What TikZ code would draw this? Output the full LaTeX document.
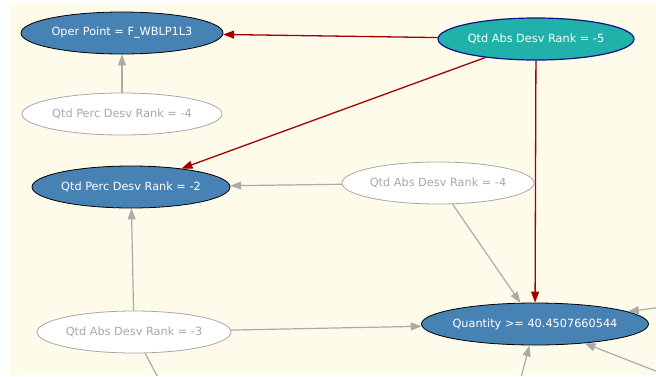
\documentclass[tikz,border=0pt]{standalone}
\usepackage{fontspec}
\setmainfont{DejaVu Sans}
\usetikzlibrary{shapes.geometric,arrows.meta}
\definecolor{paper}{HTML}{FEFBEA}
\definecolor{steel}{HTML}{4682B4}
\definecolor{teal}{HTML}{20B2AA}
\definecolor{navyrim}{HTML}{10108A}
\definecolor{hotedge}{HTML}{A00000}
\definecolor{coldedge}{HTML}{ABABAB}
\definecolor{faint}{HTML}{A8A8A8}
\tikzset{
  every node/.style={font=\fontsize{11.3}{12}\selectfont},
  state/.style={ellipse, inner xsep=-30pt, inner ysep=0pt, minimum height=42pt},
  active/.style={state, fill=steel, draw=black, line width=0.8pt, text=white},
  focus/.style={state, fill=teal, draw=navyrim, line width=1.2pt, text=white},
  idle/.style={state, fill=white, draw=faint, line width=0.8pt, text=faint},
  hot/.style={draw=hotedge, line width=1.3pt, -{Triangle[length=11pt,width=8pt]}},
  cold/.style={draw=coldedge, line width=1.2pt, -{Triangle[length=11pt,width=8pt]}},
}
\begin{document}
\begin{tikzpicture}[x=1pt, y=-1pt]
  \useasboundingbox (0,0) rectangle (656,376);
  \fill[white] (0,0) rectangle (656,376);
  \fill[paper] (10,4) rectangle (656,375);

  \node[active, minimum width=202pt] (oper)  at (122,33)  {Oper Point = F\_WBLP1L3};
  \node[focus,  minimum width=196pt] (abs5)  at (536,39)  {Qtd Abs Desv Rank = -5};
  \node[idle,   minimum width=200pt] (perc4) at (122,114) {Qtd Perc Desv Rank = -4};
  \node[active, minimum width=198pt] (perc2) at (131,187) {Qtd Perc Desv Rank = -2};
  \node[idle,   minimum width=192pt] (abs4)  at (438,183) {Qtd Abs Desv Rank = -4};
  \node[idle,   minimum width=194pt] (abs3)  at (134,332) {Qtd Abs Desv Rank = -3};
  \node[active, minimum width=227pt] (qty)   at (535,324) {Quantity >= 40.4507660544};

  % neighbours that lie beyond the visible area
  \coordinate (offright)  at (760,294);
  \coordinate (offcorner) at (720,396);
  \coordinate (offbottom) at (512,412);
  \coordinate (offleft)   at (176,412);

  \begin{scope}
    \clip (10,4) rectangle (656,375);
    \draw[cold] (perc4) -- (oper);
    \draw[cold] (abs4) -- (perc2);
    \draw[cold] (abs4) -- (qty);
    \draw[cold] (abs3) -- (perc2);
    \draw[cold] (abs3) -- (qty);
    \draw[cold] (abs3) -- (offleft);
    \draw[cold] (offright) -- (qty);
    \draw[cold] (offcorner) -- (qty);
    \draw[cold] (offbottom) -- (qty);
    \draw[hot] (abs5) -- (oper);
    \draw[hot] (abs5) -- (perc2);
    \draw[hot] (abs5) -- (qty);
  \end{scope}
\end{tikzpicture}
\end{document}
